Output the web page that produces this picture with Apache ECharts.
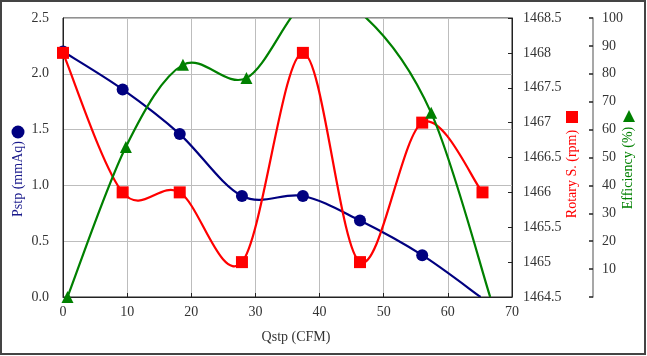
<!DOCTYPE html>
<html>
<head>
<meta charset="utf-8">
<script src="https://cdn.jsdelivr.net/npm/echarts@6/dist/echarts.min.js"></script>
<style>
html,body{margin:0;padding:0;background:#fff;}
#chart{width:647px;height:356px;}
</style>
</head>
<body>
<div id="chart"></div>
<script>
// ---- data ----
var xTicks = [0, 10, 20, 30, 40, 50, 60, 70];
var pstpQ = [0, 9.3, 18.2, 27.9, 37.4, 46.3, 56.0, 65.1];
var pstp  = [2.2, 1.86, 1.46, 0.905, 0.905, 0.685, 0.375, 0];
var rpmQ  = [0, 9.3, 18.2, 27.9, 37.4, 46.3, 56.0, 65.4];
var rpm   = [1468, 1466, 1466, 1465, 1468, 1465, 1467, 1466];
var effQ  = [0.7, 9.8, 18.7, 28.6, 38.0, 46.8, 57.4, 66.6];
var eff   = [0, 53.8, 83.2, 78.5, 106, 101, 66, 0];
var markerShown = [true, true, true, true, true, true, true, false];

var FONT = '"Liberation Serif","Times New Roman",serif';
var LBL = '#333333';

function pairs(xs, ys) { return xs.map(function (x, i) { return [x, ys[i]]; }); }

function markerData(xs, ys, hideLast) {
  return xs.map(function (x, i) {
    var item = { value: [x, ys[i]] };
    if (hideLast && !markerShown[i]) item.symbolSize = 0;
    return item;
  });
}

// Excel-like smoothed curve (Catmull-Rom style Bezier), positioned through the axes via api.coord
function curveSeries(name, xs, ys, yIdx, color, z) {
  return {
    name: name, type: 'custom', xAxisIndex: 0, yAxisIndex: yIdx, clip: true, z: z,
    data: pairs(xs, ys),
    encode: { x: 0, y: 1 },
    renderItem: function (params, api) {
      if (params.dataIndex !== 0) return null;
      var p = xs.map(function (x, i) { return api.coord([x, ys[i]]); });
      var n = p.length, kids = [];
      for (var i = 0; i < n - 1; i++) {
        var p0 = p[Math.max(i - 1, 0)], p1 = p[i], p2 = p[i + 1], p3 = p[Math.min(i + 2, n - 1)];
        kids.push({
          type: 'bezierCurve',
          shape: {
            x1: p1[0], y1: p1[1], x2: p2[0], y2: p2[1],
            cpx1: p1[0] + (p2[0] - p0[0]) / 6, cpy1: p1[1] + (p2[1] - p0[1]) / 6,
            cpx2: p2[0] - (p3[0] - p1[0]) / 6, cpy2: p2[1] - (p3[1] - p1[1]) / 6
          },
          style: { stroke: color, lineWidth: 2.2, fill: null }
        });
      }
      return { type: 'group', children: kids };
    }
  };
}

function markerSeries(name, xs, ys, yIdx, symbol, color, hideLast, z) {
  return {
    name: name, type: 'scatter', xAxisIndex: 0, yAxisIndex: yIdx, z: z,
    data: markerData(xs, ys, hideLast), symbol: symbol, symbolSize: 12,
    itemStyle: { color: color, opacity: 1 }, clip: true
  };
}

var chart = echarts.init(document.getElementById('chart'), null, {renderer: 'canvas'});
var option = {
  animation: false,
  backgroundColor: '#ffffff',
  grid: { left: 63, right: 135, top: 18, bottom: 59, show: true, borderColor: '#222', borderWidth: 1, backgroundColor: 'transparent' },
  xAxis: {
    type: 'value', min: xTicks[0], max: xTicks[xTicks.length - 1], interval: 10,
    axisLine: { show: true, lineStyle: { color: '#222', width: 1 } },
    axisTick: { show: true, inside: true, length: 4, lineStyle: { color: '#222' } },
    axisLabel: { fontFamily: FONT, fontSize: 14, color: LBL, margin: 8 },
    splitLine: { show: true, lineStyle: { color: '#bdbdbd', width: 1 } }
  },
  yAxis: [
    {
      type: 'value', min: 0, max: 2.5, interval: 0.5, position: 'left',
      axisLine: { show: true, lineStyle: { color: '#222' } },
      axisTick: { show: false },
      axisLabel: { fontFamily: FONT, fontSize: 14, color: LBL, margin: 14, formatter: function (v) { return v.toFixed(1); } },
      splitLine: { show: true, lineStyle: { color: '#bdbdbd', width: 1 } }
    },
    {
      type: 'value', min: 1464.5, max: 1468.5, interval: 0.5, position: 'right',
      axisLine: { show: true, lineStyle: { color: '#222' } },
      axisTick: { show: true, inside: true, length: 4, lineStyle: { color: '#222' } },
      axisLabel: { fontFamily: FONT, fontSize: 14, color: LBL, margin: 11, formatter: function (v) { return String(Math.round(v * 10) / 10); } },
      splitLine: { show: false }
    },
    {
      type: 'value', min: 0, max: 100, interval: 10, position: 'right', offset: 81,
      axisLine: { show: true, lineStyle: { color: '#8a8a8a', width: 1.5 } },
      axisTick: { show: true, inside: true, length: 4, lineStyle: { color: '#222', width: 1.5 } },
      axisLabel: { fontFamily: FONT, fontSize: 14, color: LBL, margin: 9, formatter: function (v) { return v === 0 ? '' : String(v); } },
      splitLine: { show: false }
    }
  ],
  series: [
    curveSeries('Pstp line', pstpQ, pstp, 0, '#000080', 2),
    markerSeries('Pstp', pstpQ, pstp, 0, 'circle', '#000080', true, 3),
    curveSeries('Rotary line', rpmQ, rpm, 1, '#ff0000', 4),
    markerSeries('Rotary', rpmQ, rpm, 1, 'rect', '#ff0000', false, 5),
    curveSeries('Efficiency line', effQ, eff, 2, '#008000', 6),
    markerSeries('Efficiency', effQ, eff, 2, 'triangle', '#008000', true, 7)
  ],
  graphic: [
    { type: 'rect', shape: { x: 1, y: 1, width: 644, height: 353 }, style: { fill: 'none', stroke: '#444', lineWidth: 2 }, silent: true, z: 100 },
    { type: 'text', x: 296, y: 337, style: { text: 'Qstp (CFM)', font: '14px ' + FONT, fill: '#333', textAlign: 'center', textVerticalAlign: 'middle' } },
    { type: 'text', x: 18, y: 179, rotation: Math.PI / 2, style: { text: 'Pstp (mmAq)', font: '14px ' + FONT, fill: '#1a1a8c', textAlign: 'center', textVerticalAlign: 'middle' } },
    { type: 'circle', shape: { cx: 18, cy: 132, r: 6.5 }, style: { fill: '#000080' } },
    { type: 'text', x: 572, y: 174, rotation: Math.PI / 2, style: { text: 'Rotary S. (rpm)', font: '14px ' + FONT, fill: '#ff0000', textAlign: 'center', textVerticalAlign: 'middle' } },
    { type: 'rect', shape: { x: 566, y: 111, width: 12, height: 12 }, style: { fill: '#ff0000' } },
    { type: 'text', x: 628, y: 168, rotation: Math.PI / 2, style: { text: 'Efficiency (%)', font: '14px ' + FONT, fill: '#008000', textAlign: 'center', textVerticalAlign: 'middle' } },
    { type: 'polygon', shape: { points: [[629, 110], [623, 122], [635, 122]] }, style: { fill: '#008000' } }
  ]
};
chart.setOption(option);
</script>
</body>
</html>
